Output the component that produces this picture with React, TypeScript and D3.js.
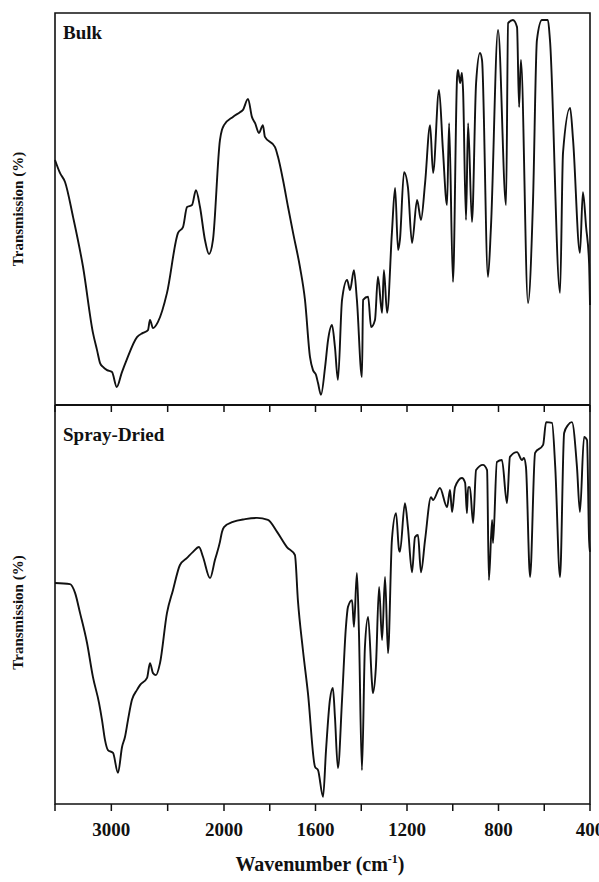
import React from "react";
import * as d3 from "d3";

// ---- Data (wavenumber in cm-1, transmission in arbitrary % units) ----
const bulkWavenumber = [
  3500, 3456, 3411, 3340, 3251, 3163, 3127, 3100, 3074, 3038, 2994, 2952, 2908, 2864,
  2772, 2719, 2675, 2657, 2630, 2586, 2506, 2408, 2364, 2328, 2284, 2249, 2213, 2169,
  2133, 2098, 2036, 2018, 2000, 1961, 1930, 1917, 1895, 1878, 1864, 1847, 1830, 1821,
  1777, 1764, 1742, 1720, 1698, 1668, 1646, 1624, 1611, 1598, 1589, 1576, 1558, 1545,
  1528, 1515, 1502, 1484, 1462, 1449, 1432, 1419, 1397, 1392, 1370, 1357, 1340, 1327,
  1309, 1301, 1287, 1266, 1252, 1239, 1231, 1213, 1196, 1178, 1156, 1139, 1121, 1099,
  1086, 1060, 1043, 1025, 1016, 999, 981, 977, 968, 960, 955, 942, 933, 916, 898, 881,
  872, 846, 833, 802, 767, 758, 737, 719, 710, 702, 671, 649, 632, 610, 584, 575, 531,
  518, 487, 474, 444, 431, 417, 404, 400,
];
const bulkTransmission = [
  62.5, 59.2, 56.9, 48.0, 35.2, 18.4, 14.0, 10.7, 9.7, 8.9, 8.4, 4.6, 8.2, 11.5,
  17.3, 18.4, 19.1, 21.7, 19.6, 21.2, 28.6, 43.9, 45.4, 50.5, 51.0, 54.8, 50.5, 42.1,
  38.5, 42.1, 67.6, 70.2, 71.4, 73.5, 74.7, 75.3, 78.1, 73.5, 71.9, 69.4, 71.4, 68.4,
  65.8, 63.3, 57.4, 50.5, 43.9, 35.2, 26.8, 12.2, 8.9, 7.7, 5.6, 2.6, 9.7, 16.6,
  20.4, 14.8, 6.4, 26.8, 31.9, 29.3, 34.4, 26.8, 7.1, 26.8, 27.6, 19.9, 21.7, 32.7,
  23.5, 34.4, 23.5, 43.9, 55.4, 39.5, 42.1, 59.4, 55.6, 41.3, 52.3, 47.2, 56.6, 71.4,
  59.2, 80.4, 65.1, 51.0, 71.9, 31.4, 83.7, 85.5, 82.1, 84.7, 80.4, 47.2, 71.9, 46.7, 82.1, 89.8,
  88.0, 32.7, 45.4, 95.7, 51.0, 97.4, 98.2, 96.4, 76.0, 88.0, 26.0, 52.3, 93.1, 98.2, 98.2, 93.1, 28.6,
  64.3, 75.8, 67.6, 38.8, 54.3, 45.4, 36.2, 25.5,
];

const sprayWavenumber = [
  3500, 3367, 3322, 3278, 3216, 3163, 3109, 3083, 3056, 3030, 2985, 2941, 2905, 2879,
  2852, 2817, 2772, 2746, 2683, 2657, 2630, 2604, 2568, 2506, 2453, 2391, 2328, 2275,
  2222, 2186, 2124, 2080, 2036, 2018, 2000, 1961, 1908, 1856, 1808, 1768, 1725, 1690,
  1677, 1655, 1633, 1602, 1589, 1567, 1554, 1537, 1524, 1515, 1502, 1484, 1467, 1458,
  1440, 1432, 1419, 1410, 1397, 1384, 1370, 1353, 1349, 1336, 1322, 1309, 1296, 1283,
  1266, 1248, 1235, 1231, 1209, 1196, 1178, 1165, 1152, 1139, 1121, 1095, 1086, 1056,
  1025, 1012, 1003, 990, 960, 946, 938, 933, 925, 911, 898, 868, 850, 842, 828, 824,
  807, 785, 763, 750, 719, 697, 689, 680, 662, 640, 605, 592, 566, 552, 531, 513, 496,
  479, 457, 444, 426, 413, 404, 400,
];
const sprayTransmission = [
  55.4, 55.1, 52.9, 47.9, 40.4, 31.8, 25.3, 21.1, 16.0, 13.5, 12.8, 7.8, 14.3, 16.8,
  21.1, 26.1, 28.6, 29.8, 31.6, 35.3, 32.8, 32.3, 35.3, 47.9, 53.6, 59.9, 61.7, 63.2,
  64.4, 61.9, 56.6, 61.2, 65.7, 68.2, 69.4, 70.7, 71.4, 71.7, 71.2, 68.2, 64.4, 62.4,
  51.1, 38.6, 27.8, 9.3, 8.5, 1.8, 13.5, 26.1, 29.1, 21.8, 9.0, 26.1, 44.4, 49.4,
  51.1, 44.4, 57.9, 42.9, 8.5, 39.3, 46.9, 30.3, 27.8, 34.3, 54.4, 41.1, 56.9, 37.8,
  66.2, 72.9, 63.7, 63.2, 75.4, 69.4, 58.1, 66.9, 67.4, 58.1, 66.2, 76.9, 76.2, 79.2,
  74.4, 78.7, 73.2, 79.4, 81.7, 80.5, 72.9, 79.4, 79.4, 70.4, 83.7, 85.0, 83.7, 56.1, 71.2, 65.4,
  85.7, 86.2, 75.4, 87.0, 88.2, 86.2, 86.7, 84.5, 56.9, 88.0, 90.0, 95.7, 95.5, 84.5, 56.9, 93.0, 95.0,
  95.7, 84.5, 73.2, 92.0, 91.2, 66.2, 63.2,
];

const tickValues = [3500, 3000, 2500, 2000, 1800, 1600, 1400, 1200, 1000, 800, 600, 400];
const tickLabels = [3000, 2000, 1600, 1200, 800, 400];
const panelLabels = ["Bulk", "Spray-Dried"];
const yAxisTitle = "Transmission (%)";
const xAxisTitle = "Wavenumber (cm";

const W = 599;
const H = 882;
const LEFT = 55;
const RIGHT = 590;
const TOP = 13;
const MID = 405;
const BOTTOM = 804;
const FONT = "'Liberation Serif', 'Times New Roman', serif";

export default function App() {
  const x = d3.scaleLinear().domain([3500, 2000, 400]).range([LEFT, 224, RIGHT]);
  const yTop = d3.scaleLinear().domain([0, 100]).range([MID, TOP]);
  const yBot = d3.scaleLinear().domain([0, 100]).range([BOTTOM, MID]);

  const lineTop = d3
    .line<number>()
    .x((d) => x(bulkWavenumber[d]))
    .y((d) => yTop(bulkTransmission[d]))
    .curve(d3.curveMonotoneX);
  const lineBot = d3
    .line<number>()
    .x((d) => x(sprayWavenumber[d]))
    .y((d) => yBot(sprayTransmission[d]))
    .curve(d3.curveMonotoneX);

  const topPath = lineTop(bulkWavenumber.map((_, i) => i)) || "";
  const botPath = lineBot(sprayWavenumber.map((_, i) => i)) || "";

  return (
    <svg
      width={W}
      height={H}
      style={{ position: "absolute", left: 0, top: 0, background: "#fff" }}
      fontFamily={FONT}
    >
      <rect x={0} y={0} width={W} height={H} fill="#fff" />
      {/* frame */}
      <path
        d={`M${LEFT},${TOP}H${RIGHT}V${BOTTOM}H${LEFT}Z`}
        fill="none"
        stroke="#111"
        strokeWidth={1.6}
      />
      <line x1={LEFT} x2={RIGHT} y1={MID} y2={MID} stroke="#111" strokeWidth={1.8} />
      {/* ticks on divider and bottom axis */}
      {tickValues.map((t) => (
        <g key={t}>
          <line x1={x(t)} x2={x(t)} y1={MID} y2={MID + 7} stroke="#111" strokeWidth={1.5} />
          <line x1={x(t)} x2={x(t)} y1={BOTTOM} y2={BOTTOM + 7} stroke="#111" strokeWidth={1.5} />
        </g>
      ))}
      {tickLabels.map((t) => (
        <text
          key={t}
          x={x(t)}
          y={836}
          textAnchor="middle"
          fontSize={19}
          fontWeight="bold"
          fill="#111"
        >
          {t}
        </text>
      ))}
      {/* spectra */}
      <path d={topPath} fill="none" stroke="#111" strokeWidth={1.9} strokeLinejoin="round" />
      <path d={botPath} fill="none" stroke="#111" strokeWidth={1.9} strokeLinejoin="round" />
      {/* panel labels */}
      <text x={63} y={39} fontSize={19} fontWeight="bold" fill="#111">
        {panelLabels[0]}
      </text>
      <text x={63} y={441} fontSize={19} fontWeight="bold" fill="#111">
        {panelLabels[1]}
      </text>
      {/* y titles */}
      <text
        transform={`translate(23,${(TOP + MID) / 2}) rotate(-90)`}
        textAnchor="middle"
        fontSize={15}
        fontWeight="bold"
        fill="#111"
      >
        {yAxisTitle}
      </text>
      <text
        transform={`translate(23,${(MID + BOTTOM) / 2 + 8}) rotate(-90)`}
        textAnchor="middle"
        fontSize={15}
        fontWeight="bold"
        fill="#111"
      >
        {yAxisTitle}
      </text>
      {/* x title */}
      <text x={320} y={871} textAnchor="middle" fontSize={20} fontWeight="bold" fill="#111">
        {xAxisTitle}
        <tspan fontSize={12} dy={-8}>-1</tspan>
        <tspan dy={8}>)</tspan>
      </text>
    </svg>
  );
}
